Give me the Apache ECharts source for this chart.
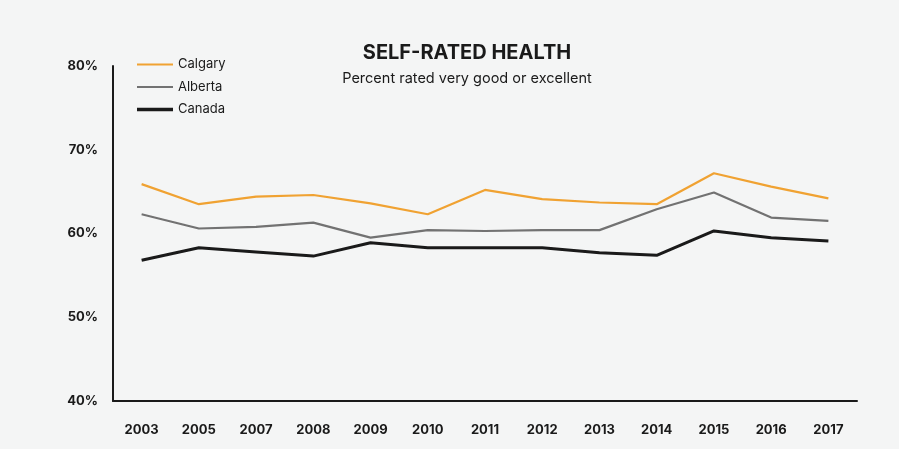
<!DOCTYPE html>
<html>
<head>
<meta charset="utf-8">
<script src="https://cdn.jsdelivr.net/npm/echarts@6/dist/echarts.min.js"></script>
<style>
html,body{margin:0;padding:0;background:#f4f5f5;}
#c{width:899px;height:449px;}
</style>
</head>
<body>
<div id="c"></div>
<script>
const years = ['2003','2005','2007','2008','2009','2010','2011','2012','2013','2014','2015','2016','2017'];
const calgary = [65.9, 63.5, 64.4, 64.6, 63.6, 62.3, 65.2, 64.1, 63.7, 63.5, 67.2, 65.6, 64.2];
const alberta = [62.3, 60.6, 60.8, 61.3, 59.5, 60.4, 60.3, 60.4, 60.4, 62.9, 64.9, 61.9, 61.5];
const canada  = [56.8, 58.3, 57.8, 57.3, 58.9, 58.3, 58.3, 58.3, 57.7, 57.4, 60.3, 59.5, 59.1];
const yTicks = [40, 50, 60, 70, 80];

const font = 'Inter, "Noto Sans", sans-serif';
const thin = 'path://M0,0H36V2.2H0Z';
const thick = 'path://M0,0H36V3.4H0Z';
const chart = echarts.init(document.getElementById('c'), null, {renderer:'canvas'});
chart.setOption({
  backgroundColor: '#f4f5f5',
  animation: false,
  title: {
    text: 'SELF-RATED HEALTH',
    subtext: 'Percent rated very good or excellent',
    left: 462, top: 38, textAlign: 'center',
    itemGap: 8,
    textStyle: {fontFamily: font, fontWeight: 'bold', fontSize: 20, color: '#1a1a1a'},
    subtextStyle: {fontFamily: font, fontSize: 14.5, color: '#1a1a1a'}
  },
  legend: {
    orient: 'vertical', left: 132, top: 53,
    itemWidth: 36, itemHeight: 12, itemGap: 9.5,
    textStyle: {fontFamily: font, fontSize: 13, color: '#1a1a1a'},
    data: [
      {name: 'Calgary', icon: thin},
      {name: 'Alberta', icon: thin},
      {name: 'Canada', icon: thick}
    ]
  },
  grid: {left: 113, right: 42, top: 66, bottom: 48},
  xAxis: {
    type: 'category', data: years, boundaryGap: true,
    axisLine: {lineStyle: {color: '#1a1a1a', width: 2}},
    axisTick: {show: false},
    axisLabel: {fontFamily: font, fontWeight: 'bold', fontSize: 13, color: '#1a1a1a', margin: 23}
  },
  yAxis: {
    type: 'value', min: yTicks[0], max: yTicks[yTicks.length-1], interval: 10,
    axisLine: {show: true, lineStyle: {color: '#1a1a1a', width: 2}},
    axisTick: {show: false},
    splitLine: {show: false},
    axisLabel: {fontFamily: font, fontWeight: 'bold', fontSize: 13, color: '#1a1a1a', margin: 15,
      formatter: v => v + '%'}
  },
  series: [
    {name: 'Calgary', type: 'line', data: calgary, symbol: 'none',
      lineStyle: {color: '#f0a232', width: 2.2}, itemStyle: {color: '#f0a232'}},
    {name: 'Alberta', type: 'line', data: alberta, symbol: 'none',
      lineStyle: {color: '#727272', width: 2.2}, itemStyle: {color: '#727272'}},
    {name: 'Canada', type: 'line', data: canada, symbol: 'none',
      lineStyle: {color: '#1a1a1a', width: 3}, itemStyle: {color: '#1a1a1a'}}
  ]
});
</script>
</body>
</html>
